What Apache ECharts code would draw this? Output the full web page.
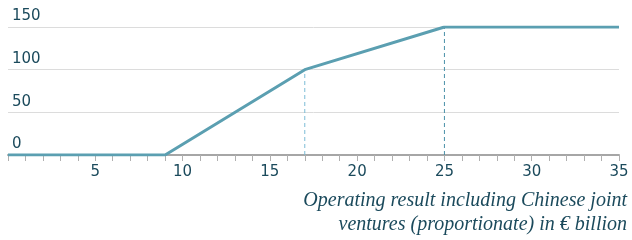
<!DOCTYPE html>
<html>
<head>
<meta charset="utf-8">
<script src="https://cdn.jsdelivr.net/npm/echarts@6/dist/echarts.min.js"></script>
<style>
  html, body { margin: 0; padding: 0; background: #fff; }
  #chart { width: 632px; height: 240px; }
</style>
</head>
<body>
<div id="chart"></div>
<script>
// breakpoints of the curve (x in € billion, y value)
const xPoints = [0, 9, 17, 25, 35];
const yPoints = [0, 0, 100, 150, 150];
// dashed guide lines
const guideX = [17, 25];
const guideY = [100, 150];
const guideColors = ["#7dbcd6", "#4a90a8"];
const axisTitle = "Operating result including Chinese joint\nventures (proportionate) in € billion";

const chart = echarts.init(document.getElementById("chart"));

const textColor = "#1b4a5c";

// each guide as its own small dashed series
const guideSeries = guideX.map((x, i) => ({
  type: "line",
  data: [[x, 0], [x, guideY[i]]],
  symbol: "none",
  silent: true,
  z: 2,
  lineStyle: { color: guideColors[i], type: [4, 3], width: 1 }
}));

const option = {
  animation: false,
  grid: { left: 8, right: 13, top: 27, bottom: 85, containLabel: false },
  xAxis: {
    type: "value",
    min: 0,
    max: 35,
    interval: 5,
    axisLine: { show: true, lineStyle: { color: "#a6a6a6", width: 2 } },
    axisTick: { show: true, length: 6, lineStyle: { color: "#b0b0b0", width: 1 } },
    minorTick: { show: true, splitNumber: 5, length: 6, lineStyle: { color: "#b0b0b0", width: 1 } },
    splitLine: { show: false },
    axisLabel: {
      color: textColor,
      fontSize: 15,
      fontFamily: "DejaVu Sans",
      margin: 10,
      formatter: (v) => (v === 0 ? "" : v)
    }
  },
  yAxis: {
    type: "value",
    min: 0,
    max: 150,
    interval: 50,
    axisLine: { show: false },
    axisTick: { show: false },
    splitLine: { show: true, lineStyle: { color: "#dcdcdc", width: 1 } },
    axisLabel: {
      inside: true,
      color: textColor,
      fontSize: 15,
      fontFamily: "DejaVu Sans",
      margin: 4,
      verticalAlign: "bottom",
      padding: [0, 0, 3, 0]
    }
  },
  graphic: [
    {
      type: "text",
      right: 5,
      top: 189,
      style: {
        text: axisTitle,
        textAlign: "right",
        fill: textColor,
        font: 'italic 20px "Liberation Serif"',
        lineHeight: 24
      }
    }
  ],
  series: [
    ...guideSeries,
    {
      type: "line",
      data: xPoints.map((x, i) => [x, yPoints[i]]),
      symbol: "none",
      lineStyle: { color: "#5b9fb1", width: 3 },
      z: 3
    }
  ]
};

chart.setOption(option);
</script>
</body>
</html>
